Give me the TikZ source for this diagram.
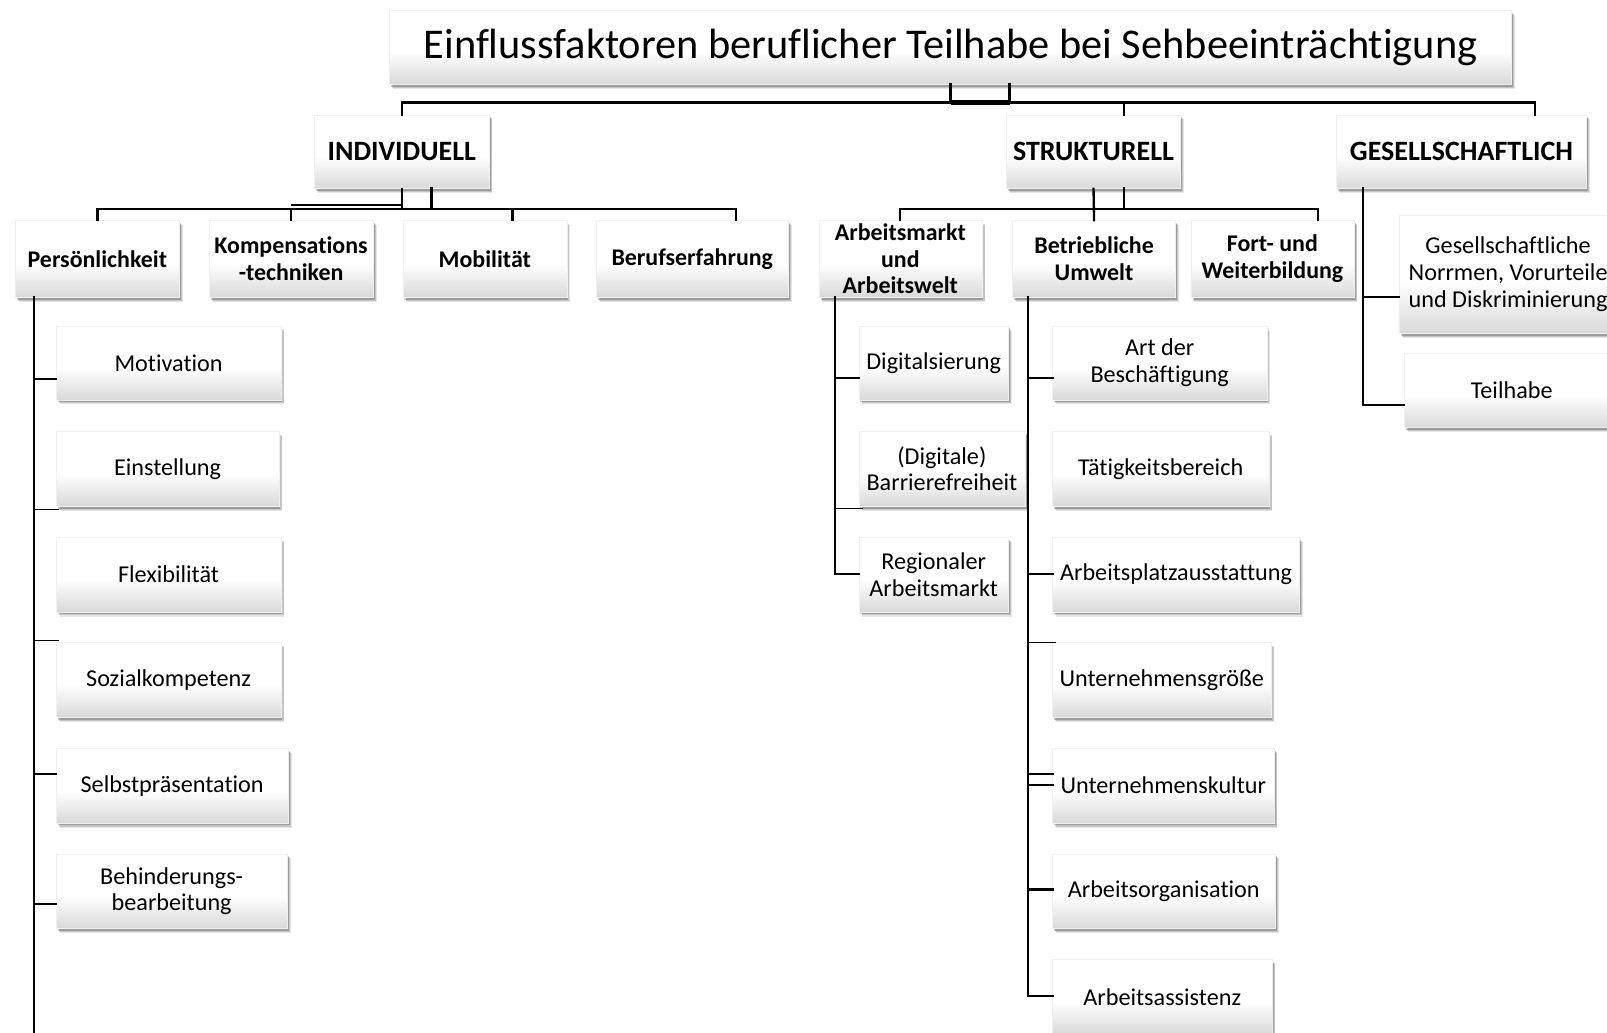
\documentclass[tikz,border=0pt]{standalone}
\usepackage{fontspec}
\setmainfont[Ligatures=NoCommon]{Carlito}
\usetikzlibrary{shadows,calc}
\pgfdeclareverticalshading{wordbox}{100bp}{color(0bp)=(black!15); color(25bp)=(black!15); color(47bp)=(white); color(100bp)=(white)}
\tikzset{
  plainbox/.style={shading=wordbox, draw=black!6, line width=0.3pt,
    inner sep=1pt, align=center,
    drop shadow={shadow xshift=2.6pt, shadow yshift=-3.4pt, opacity=0.10, fill=black},
    drop shadow={shadow xshift=2pt, shadow yshift=-2.6pt, opacity=0.14, fill=black},
    drop shadow={shadow xshift=1.2pt, shadow yshift=-1.8pt, opacity=0.20, fill=black},
    font=\fontsize{17.7}{19.5}\selectfont},
  boldbox/.style={plainbox, font=\bfseries\fontsize{17.5}{19.5}\selectfont},
  headbox/.style={plainbox, font=\bfseries\fontsize{20.5}{22}\selectfont},
  titlebox/.style={plainbox, font=\fontsize{31}{33}\selectfont},
  conn/.style={line width=1.7pt, line cap=rect},
  thinconn/.style={line width=1pt},
  thickconn/.style={line width=3pt},
}
\newcommand\mkbox[7]{%
  \pgfmathsetmacro\bw{(#5-#3)*0.75}%
  \pgfmathsetmacro\bh{(#6-#4)*0.75}%
  \node[#1, minimum width=\bw pt, minimum height=\bh pt] (#2) at ({(#3+#5)/2},{(#4+#6)/2}) {#7};}
\begin{document}
\begin{tikzpicture}[x=0.75pt, y=-0.75pt]
\useasboundingbox (0,0) rectangle (1568,1007);
\fill[white] (0,0) rectangle (1568,1007);
% title and level 1
\mkbox{titlebox}{title}{380}{10}{1475}{82}{Einflussfaktoren beruflicher Teilhabe bei Sehbeeinträchtigung}
\mkbox{headbox}{ind}{307}{112}{477}{184}{INDIVIDUELL}
\mkbox{headbox}{str}{982}{112}{1152}{184}{STRUKTURELL}
\mkbox{headbox}{ges}{1304}{112}{1548}{184}{GESELLSCHAFTLICH}
% level 2
\mkbox{boldbox}{pers}{15}{215}{175}{290}{Persönlichkeit}
\mkbox{boldbox}{komp}{204}{215}{364}{290}{Kompensations\\-techniken}
\mkbox{boldbox}{mob}{393}{215}{553}{290}{Mobilität}
\mkbox{boldbox}{beruf}{582}{215}{769}{290}{Berufserfahrung}
\mkbox{boldbox}{amarkt}{799}{215}{958}{290}{Arbeitsmarkt\\und\\Arbeitswelt}
\mkbox{boldbox}{betr}{988}{215}{1147}{290}{Betriebliche\\Umwelt}
\mkbox{boldbox}{fort}{1162}{215}{1321}{290}{Fort- und\\Weiterbildung}
\mkbox{plainbox}{gnorm}{1365}{210}{1578}{325}{Gesellschaftliche\\Norrmen, Vorurteile\\und Diskriminierung}
\mkbox{plainbox}{teil}{1370}{345}{1580}{417}{Teilhabe}
% left column
\mkbox{plainbox}{mot}{55}{318}{274}{390}{Motivation}
\mkbox{plainbox}{einst}{55}{421}{272}{494}{Einstellung}
\mkbox{plainbox}{flex}{55}{524}{274}{597}{Flexibilität}
\mkbox{plainbox}{sozial}{55}{627}{274}{700}{Sozialkompetenz}
\mkbox{plainbox}{selbst}{55}{730}{281}{803}{Selbstpräsentation}
\mkbox{plainbox}{behind}{55}{833}{280}{906}{Behinderungs-\\bearbeitung}
% Arbeitsmarkt column
\mkbox{plainbox}{digi}{838}{318}{984}{390}{Digitalsierung}
\mkbox{plainbox}{barr}{838}{421}{1000}{494}{(Digitale)\\Barrierefreiheit}
\mkbox{plainbox}{regio}{838}{524}{984}{597}{Regionaler\\Arbeitsmarkt}
% Betriebliche Umwelt column
\mkbox{plainbox}{art}{1027}{318}{1236}{390}{Art der\\Beschäftigung}
\mkbox{plainbox}{taet}{1027}{421}{1238}{494}{Tätigkeitsbereich}
\mkbox{plainbox}{ausst}{1027}{524}{1268}{597}{Arbeitsplatzausstattung}
\mkbox{plainbox}{groesse}{1027}{627}{1240}{700}{Unternehmensgröße}
\mkbox{plainbox}{kultur}{1027}{730}{1243}{803}{Unternehmenskultur}
\mkbox{plainbox}{orga}{1027}{833}{1244}{906}{Arbeitsorganisation}
\mkbox{plainbox}{assist}{1027}{936}{1241}{1009}{Arbeitsassistenz}

% ---- connectors: top level
\coordinate (hL) at (392,100);
\coordinate (hR) at (1498,100);
\coordinate (t2) at (985,82);
\coordinate (sdrop) at (1097,100);
\draw[conn] (title.south) -- (title.south |- hL);
\draw[conn] (t2) -- (t2 |- hL);
\draw[conn] (hL) -- (hR);
\draw[thickconn] (title.south |- hL) -- (t2 |- hL);
\draw[conn] (hL) -- (ind.north);
\draw[conn] (sdrop) -- (sdrop |- str.north);
\draw[conn] (hR) -- (hR |- ges.north);

% ---- INDIVIDUELL children
\coordinate (iL) at (95,204);
\coordinate (iR) at (718,204);
\coordinate (i2) at (421,184);
\coordinate (iK) at (284,200);
\coordinate (mobd) at (500,204);
\draw[conn] (ind.south) -- (ind.south |- iL);
\draw[conn] (i2) -- (i2 |- iL);
\draw[conn] (iL) -- (iR);
\draw[thinconn] (iK) -- (iK -| ind.south);
\draw[conn] (iL) -- (pers.north);
\draw[conn] (komp.north |- iL) -- (komp.north);
\draw[conn] (mobd) -- (mobd |- mob.north);
\draw[conn] (iR) -- (iR |- beruf.north);

% ---- STRUKTURELL children
\coordinate (sL) at (878,204);
\coordinate (sR) at (1286,204);
\coordinate (s2) at (1097,184);
\draw[conn] (str.south) -- (betr.north);
\draw[conn] (s2) -- (s2 |- sL);
\draw[conn] (sL) -- (sR);
\draw[conn] (sL) -- (sL |- amarkt.north);
\draw[conn] (sR) -- (sR |- fort.north);

% ---- GESELLSCHAFTLICH children
\coordinate (gv) at (1330,184);
\coordinate (gb1) at (1330,290);
\coordinate (gb2) at (1330,395);
\draw[conn] (gv) -- (gb2) -- (gb2 -| teil.west);
\draw[conn] (gb1) -- (gb1 -| gnorm.west);

% ---- Persoenlichkeit column
\coordinate (pt) at (33,290);
\coordinate (pb) at (33,1010);
\draw[conn] (pt) -- (pb);
\draw[conn] (33,370) -- (33,370 -| mot.west);
\draw[thinconn] (33,497) -- (58,497);
\draw[thinconn] (33,625) -- (58,625);
\draw[conn] (33,755) -- (33,755 -| selbst.west);
\draw[conn] (33,882) -- (33,882 -| behind.west);

% ---- Arbeitsmarkt column
\coordinate (at) at (815,290);
\coordinate (ab) at (815,560);
\draw[conn] (at) -- (ab) -- (ab -| regio.west);
\draw[conn] (815,369) -- (815,369 -| digi.west);
\draw[thinconn] (815,496) -- (842,496);

% ---- Betriebliche column
\coordinate (bt) at (1003,290);
\coordinate (bb) at (1003,972);
\draw[conn] (bt) -- (bb) -- (bb -| assist.west);
\draw[conn] (1003,369) -- (1003,369 -| art.west);
\draw[conn] (1003,560) -- (1003,560 -| ausst.west);
\draw[thinconn] (1003,627) -- (1030,627);
\draw[conn] (1003,755) -- (1003,755 -| kultur.west);
\draw[conn] (1003,766) -- (1003,766 -| kultur.west);
\draw[conn] (1003,868) -- (1003,868 -| orga.west);
\end{tikzpicture}
\end{document}
